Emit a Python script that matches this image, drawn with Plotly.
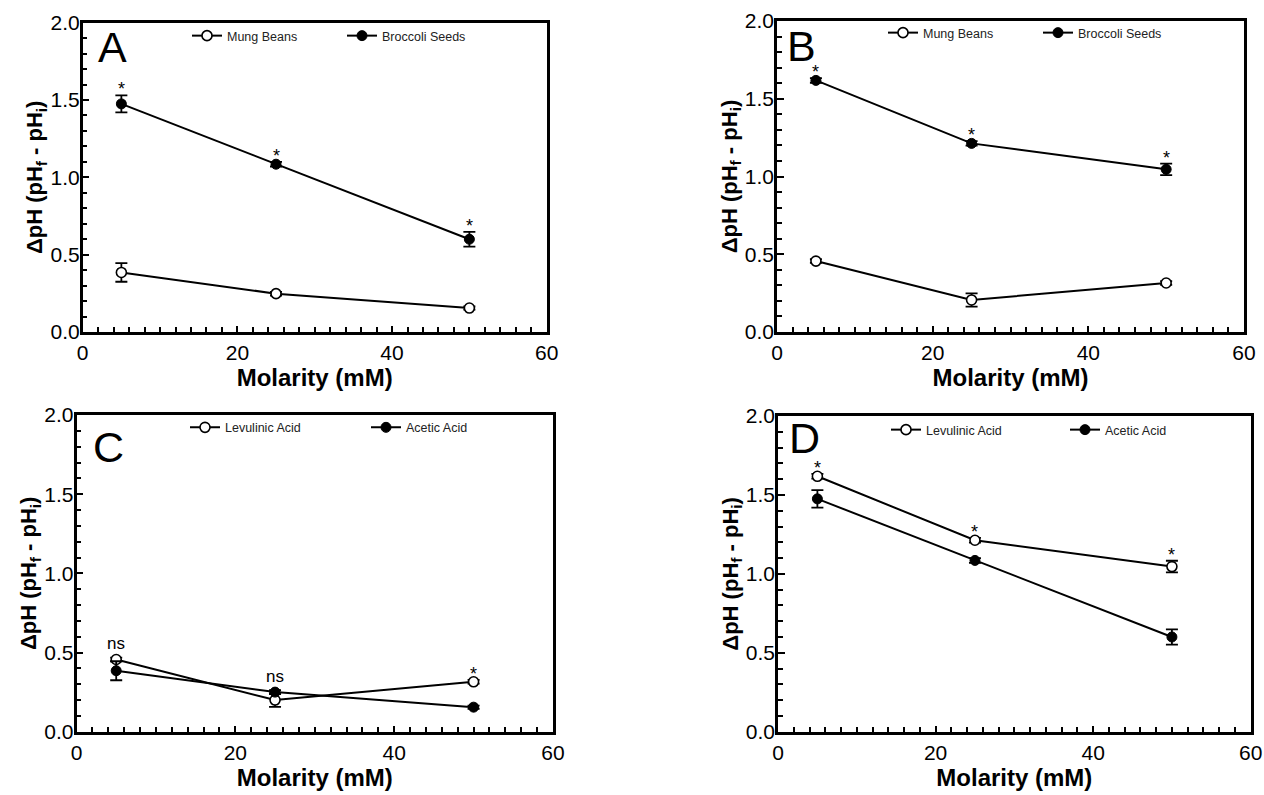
import plotly.graph_objects as go

# ---------------------------------------------------------------- data
molarity = [5, 25, 50]

# Panel A
mung_a = [0.385, 0.248, 0.155]
mung_a_err = [0.060, 0.012, 0.010]
broccoli_a = [1.475, 1.085, 0.600]
broccoli_a_err = [0.055, 0.015, 0.048]
marks_a = ["*", "*", "*"]

# Panel B
mung_b = [0.456, 0.206, 0.315]
mung_b_err = [0.012, 0.043, 0.012]
broccoli_b = [1.618, 1.213, 1.046]
broccoli_b_err = [0.015, 0.015, 0.037]
marks_b = ["*", "*", "*"]

# Panel C
levulinic_c = [0.456, 0.200, 0.315]
levulinic_c_err = [0.012, 0.043, 0.012]
acetic_c = [0.385, 0.250, 0.155]
acetic_c_err = [0.060, 0.012, 0.010]
marks_c = ["ns", "ns", "*"]

# Panel D
levulinic_d = [1.618, 1.213, 1.046]
levulinic_d_err = [0.015, 0.015, 0.037]
acetic_d = [1.475, 1.085, 0.600]
acetic_d_err = [0.055, 0.015, 0.048]
marks_d = ["*", "*", "*"]

x_ticks = [0, 20, 40, 60]
y_ticks = [0.0, 0.5, 1.0, 1.5, 2.0]

# ---------------------------------------------------------------- style
FONT = "Liberation Sans, Arial, Helvetica, sans-serif"
W, H = 1264, 795


def px_x(p):
    return p / W


def px_y(p):
    return 1 - p / H


# plot-area boxes in pixels: (left, right, top, bottom)
boxes = {
    "A": (82.7, 546.7, 22.7, 332.0),
    "B": (777.0, 1244.0, 21.0, 332.0),
    "C": (76.5, 553.0, 415.0, 731.7),
    "D": (778.0, 1250.7, 416.0, 731.7),
}

# legend anchor (left px, centre px) and per-entry width
legend_pos = {
    "A": (187.0, 36.0, 110),
    "B": (883.0, 33.0, 110),
    "C": (185.0, 427.7, 136),
    "D": (886.0, 430.0, 134),
}

# panel-letter top-left corner in pixels
letter_pos = {
    "A": (95.5, 21.0),
    "B": (785.0, 20.0),
    "C": (91.0, 421.0),
    "D": (787.0, 412.0),
}

panels = [
    ("A", "Mung Beans", mung_a, mung_a_err, "Broccoli Seeds", broccoli_a, broccoli_a_err, marks_a),
    ("B", "Mung Beans", mung_b, mung_b_err, "Broccoli Seeds", broccoli_b, broccoli_b_err, marks_b),
    ("C", "Levulinic Acid", levulinic_c, levulinic_c_err, "Acetic Acid", acetic_c, acetic_c_err, marks_c),
    ("D", "Levulinic Acid", levulinic_d, levulinic_d_err, "Acetic Acid", acetic_d, acetic_d_err, marks_d),
]

fig = go.Figure()
layout = dict(
    width=W,
    height=H,
    margin=dict(l=0, r=0, t=0, b=0),
    paper_bgcolor="white",
    plot_bgcolor="white",
    font=dict(family=FONT, color="black"),
    showlegend=True,
)
annotations = []

for i, (letter, name1, y1, e1, name2, y2, e2, marks) in enumerate(panels):
    n = "" if i == 0 else str(i + 1)
    xa, ya = "x" + n, "y" + n
    leg = "legend" + n
    left, right, top, bottom = boxes[letter]

    # open-circle series
    fig.add_trace(go.Scatter(
        x=molarity, y=y1, name=name1, mode="lines+markers",
        xaxis=xa, yaxis=ya, legend=leg,
        line=dict(color="black", width=2),
        marker=dict(symbol="circle", size=10, color="white",
                    line=dict(color="black", width=1.6)),
        error_y=dict(type="data", array=e1, color="black", thickness=1.8, width=6),
    ))
    # filled-circle series
    fig.add_trace(go.Scatter(
        x=molarity, y=y2, name=name2, mode="lines+markers",
        xaxis=xa, yaxis=ya, legend=leg,
        line=dict(color="black", width=2),
        marker=dict(symbol="circle", size=10, color="black",
                    line=dict(color="black", width=1)),
        error_y=dict(type="data", array=e2, color="black", thickness=1.8, width=6),
    ))

    layout["xaxis" + n] = dict(
        domain=[px_x(left), px_x(right)], anchor=ya,
        range=[0, 60], tickvals=x_ticks, ticktext=[str(v) for v in x_ticks],
        ticks="inside", ticklen=6, tickwidth=1.8, tickcolor="black",
        minor=dict(ticks="inside", dtick=2, ticklen=5, tickwidth=1.6, tickcolor="black"),
        showline=True, linewidth=2.5, linecolor="black", mirror=True,
        showgrid=False, zeroline=False,
        tickfont=dict(family=FONT, size=21, color="black"),
        title=dict(text="<b>Molarity (mM)</b>", standoff=6,
                   font=dict(family=FONT, size=24, color="black")),
        automargin=False, fixedrange=True,
    )
    layout["yaxis" + n] = dict(
        domain=[px_y(bottom), px_y(top)], anchor=xa,
        range=[0, 2.0], tickvals=y_ticks, ticktext=["%.1f" % v for v in y_ticks],
        ticks="inside", ticklen=7, tickwidth=1.8, tickcolor="black",
        minor=dict(ticks="inside", dtick=0.1, ticklen=5, tickwidth=1.6, tickcolor="black"),
        showline=True, linewidth=2.5, linecolor="black", mirror=True,
        showgrid=False, zeroline=False, ticklabelstandoff=-4,
        tickfont=dict(family=FONT, size=21, color="black"),
        title=dict(text="<b>ΔpH (pH<sub>f</sub> - pH<sub>i</sub>)</b>", standoff=2,
                   font=dict(family=FONT, size=22, color="black")),
        automargin=False, fixedrange=True,
    )

    lx, ly, ew = legend_pos[letter]
    layout[leg] = dict(
        orientation="h", x=px_x(lx), y=px_y(ly), xanchor="left", yanchor="middle",
        xref="paper", yref="paper",
        font=dict(family=FONT, size=12.5, color="#222"),
        bgcolor="rgba(0,0,0,0)", borderwidth=0,
        entrywidth=ew, entrywidthmode="pixels", itemwidth=30,
    )

    # panel letter
    tx, ty = letter_pos[letter]
    annotations.append(dict(
        text=letter, xref="paper", yref="paper",
        x=px_x(tx), y=px_y(ty), xanchor="left", yanchor="top", showarrow=False,
        font=dict(family=FONT, size=43, color="black"),
    ))

    # significance marks above the upper point at each concentration
    for xv, a, ea, b, eb, m in zip(molarity, y1, e1, y2, e2, marks):
        top_val = max(a + ea, b + eb)
        is_star = m == "*"
        annotations.append(dict(
            text=m, xref=xa, yref=ya, x=xv, y=top_val,
            xanchor="center", yanchor="middle", showarrow=False,
            yshift=6 if is_star else 14,
            font=dict(family=FONT, size=18 if is_star else 17, color="black"),
        ))

layout["annotations"] = annotations
fig.update_layout(**layout)

fig.write_html("out.html")
